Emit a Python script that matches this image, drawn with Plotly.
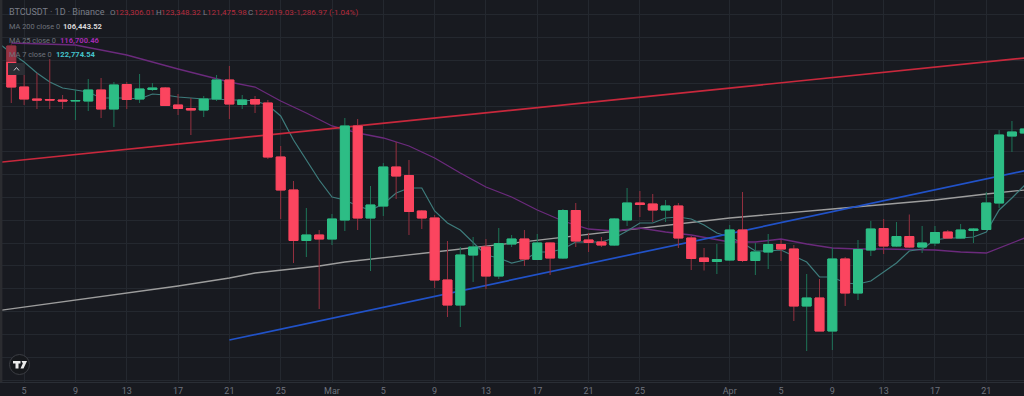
import pandas as pd
import plotly.graph_objects as go

# Candles, 2025-02-04 to 2025-04-24
opens = [130400,126300,125100,125050,125000,124900,124900,126000,124100,126550,125100,126050,126200,124500,124150,124000,125100,127000,124550,125050,124700,119300,116000,110950,111500,
111100,113000,122400,113200,114400,118300,117450,113900,113200,107000,104500,109500,110300,107400,110600,111100,109050,110700,109200,113950,111000,110800,110500,113000,114700,114600,114000,114400,111200,109200,108850,
109000,112000,108950,109800,110550,110100,104400,105200,101900,109100,105700,110000,112150,110400,111350,110300,110700,111800,111200,111950,112050,114700,121400,121700]
highs = [130600,127600,127700,129100,125500,126000,127100,127200,126800,126800,127600,126700,126300,125600,125200,125400,127500,128400,125500,125400,125000,120400,116900,114200,112000,
113600,123200,123100,116400,118700,120800,119000,114000,113500,110900,110300,111300,111100,112200,111500,112000,111600,110750,114100,114700,111700,111300,113200,116200,115900,115600,115000,114700,111400,110200,110600,
112500,115800,110700,111600,111000,110500,107600,107100,110200,109300,111000,112900,113100,112800,113550,112400,112400,112000,112600,112200,115800,122000,122900,122200]
lows = [124700,124500,124100,124100,124100,123000,123900,123200,122300,124100,124700,125900,124400,123500,121500,123300,124900,123100,124100,123700,119100,113100,108700,109300,104100,
110500,111900,112000,107900,113400,115100,111500,112100,106200,103300,102300,106800,106100,107100,110300,108400,109000,107500,109100,110300,109800,110300,110400,112400,113300,112800,112800,110200,108000,107950,107600,
108900,108800,107500,108100,108900,102900,99900,101900,100000,104400,105000,109400,109600,110300,110200,109700,110400,111100,111100,110700,112000,114200,119800,121500]
closes = [126300,125100,125000,125000,124900,124950,126000,124100,126500,125050,126100,126200,124450,124150,124000,125100,127000,124600,125000,124600,119300,116000,110950,111500,111100,
113100,122400,113200,114500,118300,117400,113850,113200,107000,104500,109500,110300,107400,110650,111100,109100,110700,109200,113950,110900,110750,110500,113100,114700,114550,114000,114400,111200,109150,108850,109050,
112000,108950,109800,110550,110100,104400,105200,101900,109100,105700,110050,112100,110400,111350,110300,110700,111750,111200,112000,112100,114700,121500,121800,122100]

# MA 7, one reading per day from 2025-02-03
ma7 = [130700,129700,128800,127700,126800,126200,126000,125800,125200,125200,125200,125100,125600,125500,125300,125200,125100,125100,125000,125000,124900,124500,123400,121000,119000,117000,
115300,115000,114400,114000,114600,115700,116200,116200,113900,112700,112000,110800,109500,109200,108700,109000,109800,109800,110100,110800,110800,110800,111200,111900,112700,112700,113200,113300,
113100,112500,111700,111300,110700,109900,109900,110000,109400,108800,107300,107300,106700,106600,106900,107800,108700,109900,110100,111000,111200,111200,111300,111800,114000,115200,116500]

ma25_dates = ["2025-02-04","2025-02-09","2025-02-13","2025-02-17","2025-02-21","2025-02-23","2025-02-25","2025-02-27","2025-03-01","2025-03-03","2025-03-05","2025-03-07","2025-03-09","2025-03-11","2025-03-13","2025-03-15","2025-03-17","2025-03-19","2025-03-21","2025-03-23","2025-03-25","2025-03-27","2025-03-29","2025-04-01","2025-04-03","2025-04-05","2025-04-07","2025-04-09","2025-04-11","2025-04-13","2025-04-17","2025-04-19","2025-04-21","2025-04-24"]
ma25 = [130700,130500,129500,128100,126800,126300,124900,123700,122400,121700,121200,120400,119200,117700,116300,115300,114000,112900,112100,111900,112200,111800,111500,110800,110800,111100,110600,110200,110100,110100,110000,109800,109700,111200]

ma200_dates = ["2025-02-03","2025-02-09","2025-02-13","2025-02-17","2025-02-21","2025-02-23","2025-02-28","2025-03-02","2025-03-09","2025-03-17","2025-03-22","2025-03-28","2025-04-01","2025-04-09","2025-04-17","2025-04-21","2025-04-24"]
ma200 = [103950,105000,105700,106400,107200,107700,108400,108800,109800,111000,111700,112600,113200,114100,115000,115600,116000]

red_dates = ["2025-02-03","2025-04-24"]
red_vals = [118760,129200]
blue_dates = ["2025-02-21","2025-04-24"]
blue_vals = [101000,117920]

tick_vals = ["2025-02-05","2025-02-09","2025-02-13","2025-02-17","2025-02-21","2025-02-25","2025-03-01","2025-03-05","2025-03-09","2025-03-13","2025-03-17","2025-03-21","2025-03-25","2025-04-01","2025-04-05","2025-04-09","2025-04-13","2025-04-17","2025-04-21"]
tick_text = ["5","9","13","17","21","25","Mar","5","9","13","17","21","25","Apr","5","9","13","17","21"]

header = "BTCUSDT · 1D · Binance"
ohlc_text = [("O",109,"#7a7e88"),("123,306.01",114,"#b52a3c"),("H",155,"#7a7e88"),("123,348.32",160,"#b52a3c"),("L",202,"#7a7e88"),("121,475.98",206,"#b52a3c"),("C",247,"#7a7e88"),("122,019.03",253,"#b52a3c"),("-1,286.97",293,"#b52a3c"),("(-1.04%)",328,"#b52a3c")]
legend_rows = [("MA 200 close 0","106,443.52",62,26.5,"#d8d8d8"),("MA 25 close 0","116,700.46",59,40.5,"#a32ab0"),("MA 7 close 0","122,774.54",55,54.5,"#45c4cc")]

dates = pd.date_range("2025-02-04", periods=len(opens), freq="D")
ma7_dates = pd.date_range("2025-02-03", periods=len(ma7), freq="D")

BG = "#181a20"; GRID = "#24282f"
UP = "#2dbd85"; DOWN = "#fb455f"; UP_W = "#1d7458"; DOWN_W = "#96303f"
W, H, PH = 1024, 396, 382
X_RANGE = ["2025-02-03 02:53", "2025-04-23 22:34"]
Y_RANGE = [96800, 135000]
FONT = "Roboto, sans-serif"

def px(x): return x / W
def py(y): return 1 - y / PH

fig = go.Figure()
fig.add_trace(go.Scatter(x=ma200_dates, y=ma200, mode="lines", line=dict(color="#9d9d9d", width=1.3), showlegend=False))
fig.add_trace(go.Scatter(x=ma25_dates, y=ma25, mode="lines", line=dict(color="#6b2a7c", width=1.3), showlegend=False))
fig.add_trace(go.Scatter(x=ma7_dates, y=ma7, mode="lines", line=dict(color="#3e7c7c", width=1.2), showlegend=False))
fig.add_trace(go.Scatter(x=red_dates, y=red_vals, mode="lines", line=dict(color="#c8283c", width=1.7), showlegend=False))
fig.add_trace(go.Scatter(x=blue_dates, y=blue_vals, mode="lines", line=dict(color="#2152c8", width=1.7), showlegend=False))

# wicks, then bodies on top, on an overlaying axis pair so they sit above the lines
fig.add_trace(go.Candlestick(x=dates, open=opens, high=highs, low=lows, close=closes,
    increasing=dict(line=dict(color=UP_W, width=1), fillcolor=UP),
    decreasing=dict(line=dict(color=DOWN_W, width=1), fillcolor=DOWN),
    xaxis="x2", yaxis="y2", whiskerwidth=0, showlegend=False))
body_hi = [max(o, c) for o, c in zip(opens, closes)]
body_lo = [min(o, c) for o, c in zip(opens, closes)]
fig.add_trace(go.Candlestick(x=dates, open=opens, high=body_hi, low=body_lo, close=closes,
    increasing=dict(line=dict(color=UP, width=1), fillcolor=UP),
    decreasing=dict(line=dict(color=DOWN, width=1), fillcolor=DOWN),
    xaxis="x2", yaxis="y2", whiskerwidth=0, showlegend=False))

ann = []
def label(text, x, y, color, size, bold=False):
    ann.append(dict(text=f"<b>{text}</b>" if bold else text, x=px(x - 1.5), y=py(y), xref="paper", yref="paper",
                    xanchor="left", yanchor="middle", showarrow=False,
                    font=dict(family=FONT, size=size, color=color)))
label(header, 8, 12.5, "#7a7e88", 9)
for t, x, c in ohlc_text:
    label(t, x, 12.5, c, 8)
for name, val, vx, y, c in legend_rows:
    label(name, 8, y, "#6f737c", 7.4)
    label(val, vx, y, c, 7.6, bold=True)

def rect(x0, y0, x1, y1, fill, line="rgba(0,0,0,0)", kind="rect"):
    return dict(type=kind, xref="paper", yref="paper", x0=px(x0), x1=px(x1), y0=py(y0), y1=py(y1),
                fillcolor=fill, line=dict(color=line, width=1), layer="above")
def path(points, fill=None, color=None, width=1):
    d = "M " + " L ".join(f"{px(a):.5f},{py(b):.5f}" for a, b in points) + (" Z" if fill else "")
    return dict(type="path", xref="paper", yref="paper", path=d, fillcolor=fill or "rgba(0,0,0,0)",
                line=dict(color=color or "rgba(0,0,0,0)", width=width), layer="above")

shapes = [
    rect(6, 44, 19, 62, "rgba(24,26,32,0.45)"),
    rect(8, 63, 25, 75, "#2b2d33"),
    path([(14, 70.5), (16.5, 67.5), (19, 70.5)], color="#c9cbd0", width=1),
    rect(9.5, 354.5, 29.5, 374.5, "#16181c", line="#3b3d43", kind="circle"),
    path([(13, 361), (20.5, 361), (20.5, 363.5), (18.5, 363.5), (18.5, 368.5), (15.5, 368.5), (15.5, 363.5), (13, 363.5)], fill="#ececec"),
    path([(21.5, 361), (27, 361), (23.5, 368.5), (20.5, 368.5), (22.8, 363.5)], fill="#ececec"),
    rect(0, 0, 2.4, 382, "#2b2c30"),
]

axis_common = dict(range=X_RANGE, type="date", rangeslider=dict(visible=False))
fig.update_layout(
    width=W, height=H, autosize=False,
    margin=dict(l=0, r=0, t=0, b=H - PH),
    paper_bgcolor=BG, plot_bgcolor=BG,
    boxgap=0.3, boxgroupgap=0, boxmode="overlay",
    showlegend=False, hovermode=False,
    font=dict(family=FONT),
    xaxis=dict(**axis_common, tickmode="array", tickvals=tick_vals, ticktext=tick_text,
               showgrid=True, gridcolor=GRID, gridwidth=1, zeroline=False, ticks="", ticklen=0,
               tickfont=dict(family=FONT, size=9, color="#6f737d"), showline=True, linecolor="#2a2e35", linewidth=1),
    xaxis2=dict(**axis_common, overlaying="x", anchor="y2", visible=False),
    yaxis=dict(range=Y_RANGE, tick0=122100, dtick=2283, showgrid=True, gridcolor=GRID, gridwidth=1,
               zeroline=False, showticklabels=False, ticks=""),
    yaxis2=dict(range=Y_RANGE, overlaying="y", anchor="x2", visible=False),
    annotations=ann, shapes=shapes,
)

fig.write_html("out.html", config={"displayModeBar": False},
               post_script="document.body.style.margin='0';document.body.style.background='#181a20';document.body.style.overflow='hidden';")
